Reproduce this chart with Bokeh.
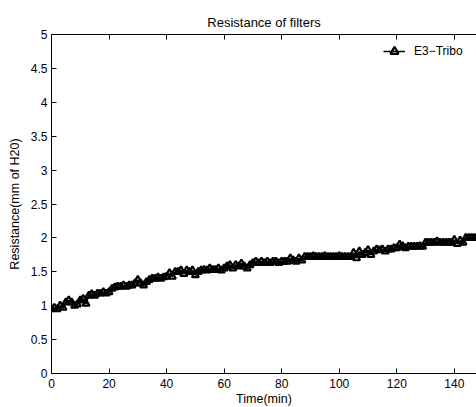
from bokeh.plotting import figure
from bokeh.models import LinearAxis, FixedTicker, Range1d, Legend, LegendItem, ColumnDataSource
from bokeh.embed import file_html
from bokeh.resources import INLINE

# Filter pressure drop readings, one per minute
time_min = list(range(0, 149))
resistance = [
    0.95, 0.97, 0.95, 1.00, 0.97,
    1.05, 1.08, 1.05, 1.00,
    1.02, 1.08, 1.10, 1.03,
    1.15, 1.17, 1.15, 1.18, 1.18, 1.20, 1.18, 1.20,
    1.25, 1.27, 1.28, 1.28, 1.30, 1.28, 1.30, 1.30,
    1.33, 1.38, 1.33, 1.30, 1.35,
    1.38, 1.40, 1.40, 1.42, 1.40, 1.42, 1.43,
    1.48, 1.43, 1.50,
    1.50, 1.52, 1.47, 1.52, 1.50, 1.52,
    1.45, 1.50, 1.52,
    1.53, 1.52, 1.55, 1.53, 1.53, 1.55, 1.52, 1.55,
    1.58, 1.60, 1.55, 1.60, 1.58, 1.62, 1.58, 1.55, 1.60,
    1.63, 1.65, 1.63, 1.65, 1.63, 1.65, 1.63, 1.65, 1.65, 1.63, 1.65, 1.65, 1.65,
    1.70, 1.67, 1.65, 1.70, 1.67, 1.72,
    1.72, 1.72, 1.73, 1.72, 1.72, 1.72, 1.73, 1.72, 1.72, 1.72, 1.72, 1.73, 1.72, 1.72, 1.72, 1.72,
    1.78, 1.70, 1.80, 1.75, 1.78, 1.82, 1.75, 1.80,
    1.83, 1.82, 1.83, 1.80, 1.83, 1.83, 1.85, 1.85,
    1.90, 1.88, 1.85, 1.87,
    1.87, 1.87, 1.87, 1.88, 1.87,
    1.93, 1.93, 1.93, 1.93, 1.95, 1.93, 1.93, 1.93, 1.93, 1.93,
    1.97, 1.91, 1.96, 1.93,
    2.00, 2.00, 2.00, 2.00, 2.00,
]
series_name = "E3\u2212Tribo"
x_ticks = [0, 20, 40, 60, 80, 100, 120, 140]
y_ticks = [0, 0.5, 1, 1.5, 2, 2.5, 3, 3.5, 4, 4.5, 5]

FONT = "Liberation Sans"

p = figure(
    width=476, height=407,
    frame_width=425, frame_height=339,
    min_border_left=51, min_border_right=0, min_border_top=34, min_border_bottom=34,
    x_range=Range1d(0, 147.7), y_range=Range1d(0, 5),
    output_backend="svg", toolbar_location=None,
    title="Resistance of filters",
)
p.title.align = "center"
p.title.text_font = FONT
p.title.text_font_size = "13px"
p.title.text_font_style = "normal"
p.title.text_color = "black"

p.outline_line_color = None
p.background_fill_color = "white"
p.border_fill_color = "white"
p.xgrid.visible = False
p.ygrid.visible = False

def style_axis(ax, ticks):
    ax.ticker = FixedTicker(ticks=ticks)
    ax.major_tick_in = 5
    ax.major_tick_out = 0
    ax.minor_tick_in = 0
    ax.minor_tick_out = 0
    ax.axis_line_color = "black"
    ax.axis_line_width = 1
    ax.major_tick_line_color = "black"
    ax.major_label_text_font = FONT
    ax.major_label_text_font_size = "12px"
    ax.major_label_text_color = "black"
    ax.axis_label_text_font = FONT
    ax.axis_label_text_font_size = "12.5px"
    ax.axis_label_text_font_style = "normal"
    ax.axis_label_text_color = "black"

style_axis(p.xaxis[0], x_ticks)
style_axis(p.yaxis[0], y_ticks)
p.xaxis[0].axis_label = "Time(min)"
p.xaxis[0].axis_label_standoff = 1
p.xaxis[0].major_label_standoff = 5
p.yaxis[0].axis_label = "Resistance(mm of H20)"
p.yaxis[0].axis_label_standoff = 6
p.yaxis[0].major_label_standoff = 4

# box edge on top: ticks only, no labels
top = LinearAxis()
style_axis(top, x_ticks)
top.major_label_text_font_size = "1px"
top.major_label_text_color = None
top.major_label_standoff = 0
p.add_layout(top, "above")

src = ColumnDataSource(dict(t=time_min, r=resistance))
ln = p.line("t", "r", source=src, line_color="black", line_width=1.5)
mk = p.scatter("t", "r", source=src, marker="triangle", size=7,
               line_color="black", line_width=2.2, fill_color=None)

legend = Legend(
    items=[LegendItem(label=series_name, renderers=[ln, mk])],
    location=(332, 312),
    padding=0, margin=0, spacing=0,
    glyph_width=22, glyph_height=20, label_standoff=9,
    border_line_color=None, background_fill_alpha=0,
    label_text_font=FONT, label_text_font_size="12px", label_text_color="black",
)
p.add_layout(legend, "center")

open("out.html", "w").write(file_html(p, INLINE))
